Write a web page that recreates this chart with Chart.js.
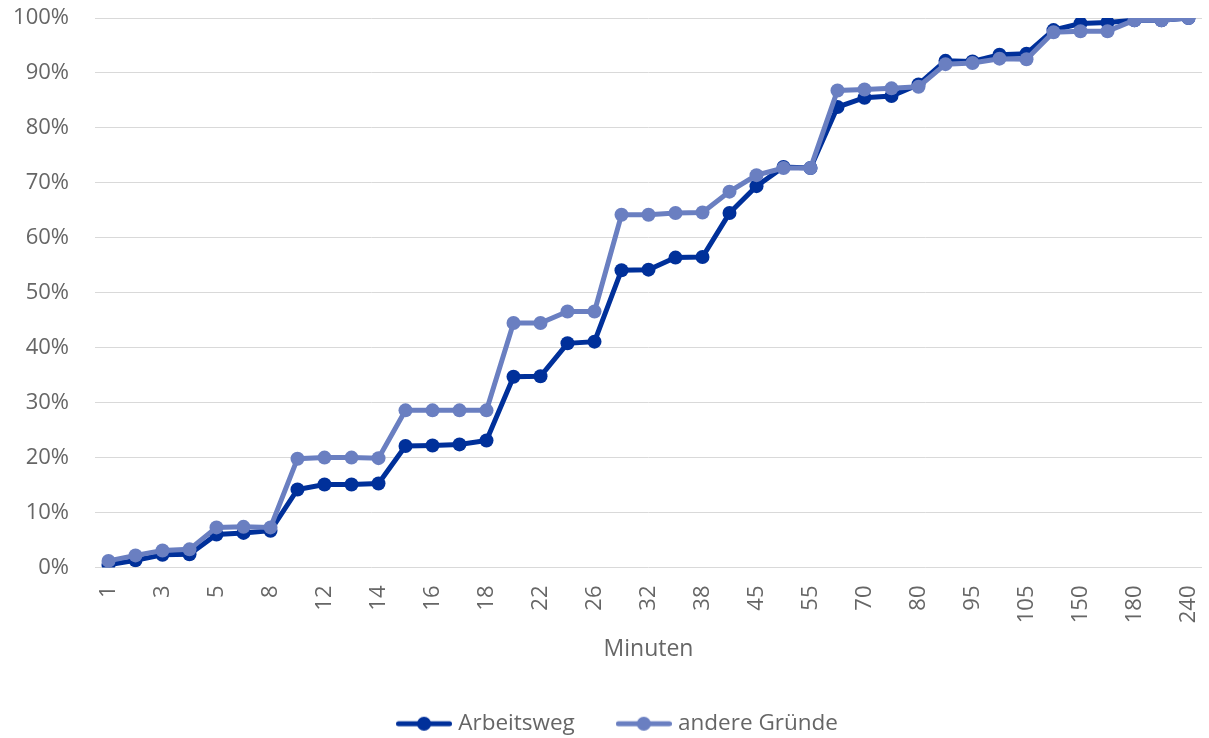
<!DOCTYPE html>
<html lang="de">
<head>
<meta charset="utf-8">
<title>Minuten – kumulierte Anteile</title>
<script src="https://cdn.jsdelivr.net/npm/chart.js@4/dist/chart.umd.min.js"></script>
<style>
  html, body { margin: 0; padding: 0; background: #ffffff; }
  #wrap { width: 1209px; height: 738px; position: relative; }
</style>
</head>
<body>
<div id="wrap"><canvas id="chart"></canvas></div>
<script>
// Fahrzeit in Minuten (Kategorien der x-Achse)
const minuten = ['1','2','3','4','5','6','8','10','12','13','14','15','16','17','18','20','22','25','26','30',
                 '32','35','38','40','45','50','55','60','70','75','80','90','95','100','105','120','150','160','180','200','240'];

// kumulierte Anteile in Prozent
const arbeitsweg = [0.5, 1.3, 2.3, 2.4, 6.0, 6.3, 6.7, 14.2, 15.1, 15.1, 15.3, 22.1, 22.2, 22.4, 23.1, 34.7, 34.8, 40.8, 41.1, 54.1,
                    54.2, 56.4, 56.5, 64.5, 69.4, 72.9, 72.7, 83.8, 85.5, 85.8, 87.9, 92.2, 92.1, 93.3, 93.5, 97.8, 99.0, 99.2, 99.6, 99.6, 100];
const andereGruende = [1.2, 2.2, 3.1, 3.3, 7.3, 7.4, 7.3, 19.8, 20.0, 20.0, 19.9, 28.6, 28.6, 28.6, 28.6, 44.5, 44.5, 46.6, 46.6, 64.2,
                       64.2, 64.5, 64.6, 68.4, 71.4, 72.7, 72.7, 86.8, 87.0, 87.2, 87.5, 91.6, 91.8, 92.6, 92.5, 97.4, 97.6, 97.6, 99.6, 99.6, 100];

// Achsenbeschriftung
const yTicks = { min: 0, max: 100, step: 10 };
const xTitel = 'Minuten';

const DUNKEL = '#00309a';
const HELL = '#6a7fc1';
const TEXT = '#666666';
const FONT = "'Open Sans', 'Liberation Sans', sans-serif";

// Legendensymbol: Linie mit Punkt
function legendSymbol(color) {
  const c = document.createElement('canvas');
  c.width = 56; c.height = 16;
  const g = c.getContext('2d');
  g.strokeStyle = color;
  g.lineWidth = 5;
  g.lineCap = 'round';
  g.beginPath(); g.moveTo(2.5, 8); g.lineTo(53.5, 8); g.stroke();
  g.fillStyle = color;
  g.beginPath(); g.arc(28, 8, 7, 0, Math.PI * 2); g.fill();
  return c;
}
const symbole = [legendSymbol(DUNKEL), legendSymbol(HELL)];

// Randabstände der Achsen auf null setzen, damit die Zeichenfläche fest liegt
function ohneRand(scale) {
  scale.paddingLeft = 0;
  scale.paddingRight = 0;
  scale.paddingTop = 0;
  scale.paddingBottom = 0;
}

// Legende unter der Zeichenfläche zentrieren (nicht unter der ganzen Breite)
const legendeVersatz = {
  id: 'legendeVersatz',
  afterLayout(chart) {
    if (chart.legend) chart.legend.left += 34;
  }
};

new Chart(document.getElementById('chart'), {
  type: 'line',
  data: {
    labels: minuten,
    datasets: [
      {
        label: 'Arbeitsweg',
        data: arbeitsweg,
        borderColor: DUNKEL,
        backgroundColor: DUNKEL,
        borderWidth: 5,
        pointRadius: 7,
        pointBorderWidth: 0,
        pointHoverRadius: 7,
        tension: 0,
        order: 1
      },
      {
        label: 'andere Gründe',
        data: andereGruende,
        borderColor: HELL,
        backgroundColor: HELL,
        borderWidth: 5,
        pointRadius: 7,
        pointBorderWidth: 0,
        pointHoverRadius: 7,
        tension: 0,
        order: 0
      }
    ]
  },
  plugins: [legendeVersatz],
  options: {
    responsive: true,
    maintainAspectRatio: false,
    animation: false,
    layout: { padding: { top: 18, right: 4, left: 0, bottom: -7 } },
    plugins: {
      tooltip: { enabled: true },
      legend: {
        position: 'bottom',
        labels: {
          usePointStyle: true,
          pointStyleWidth: 46,
          padding: 46,
          color: TEXT,
          font: { family: FONT, size: 22.5 },
          sort: (a, b) => a.datasetIndex - b.datasetIndex,
          generateLabels(chart) {
            const items = Chart.defaults.plugins.legend.labels.generateLabels(chart);
            items.forEach(it => { it.pointStyle = symbole[it.datasetIndex]; });
            return items;
          }
        }
      }
    },
    scales: {
      x: {
        type: 'category',
        offset: true,
        grid: { display: false, drawTicks: false },
        border: { display: false },
        ticks: {
          autoSkip: false,
          maxRotation: 90,
          minRotation: 90,
          padding: 18,
          color: TEXT,
          font: { family: FONT, size: 22 },
          callback(value, index) {
            return index % 2 === 0 ? this.getLabelForValue(value) : '';
          }
        },
        title: {
          display: true,
          text: xTitel,
          color: TEXT,
          font: { family: FONT, size: 23 },
          padding: { top: 4, bottom: 3 }
        },
        afterFit(scale) { scale.height = 99; ohneRand(scale); }
      },
      y: {
        min: yTicks.min,
        max: yTicks.max,
        grid: { color: '#d9d9d9', lineWidth: 1, drawTicks: false },
        border: { display: false },
        ticks: {
          stepSize: yTicks.step,
          padding: 26,
          color: TEXT,
          font: { family: FONT, size: 22 },
          callback: v => v + '%'
        },
        afterFit(scale) { scale.width = 95; ohneRand(scale); }
      }
    }
  }
});
</script>
</body>
</html>
